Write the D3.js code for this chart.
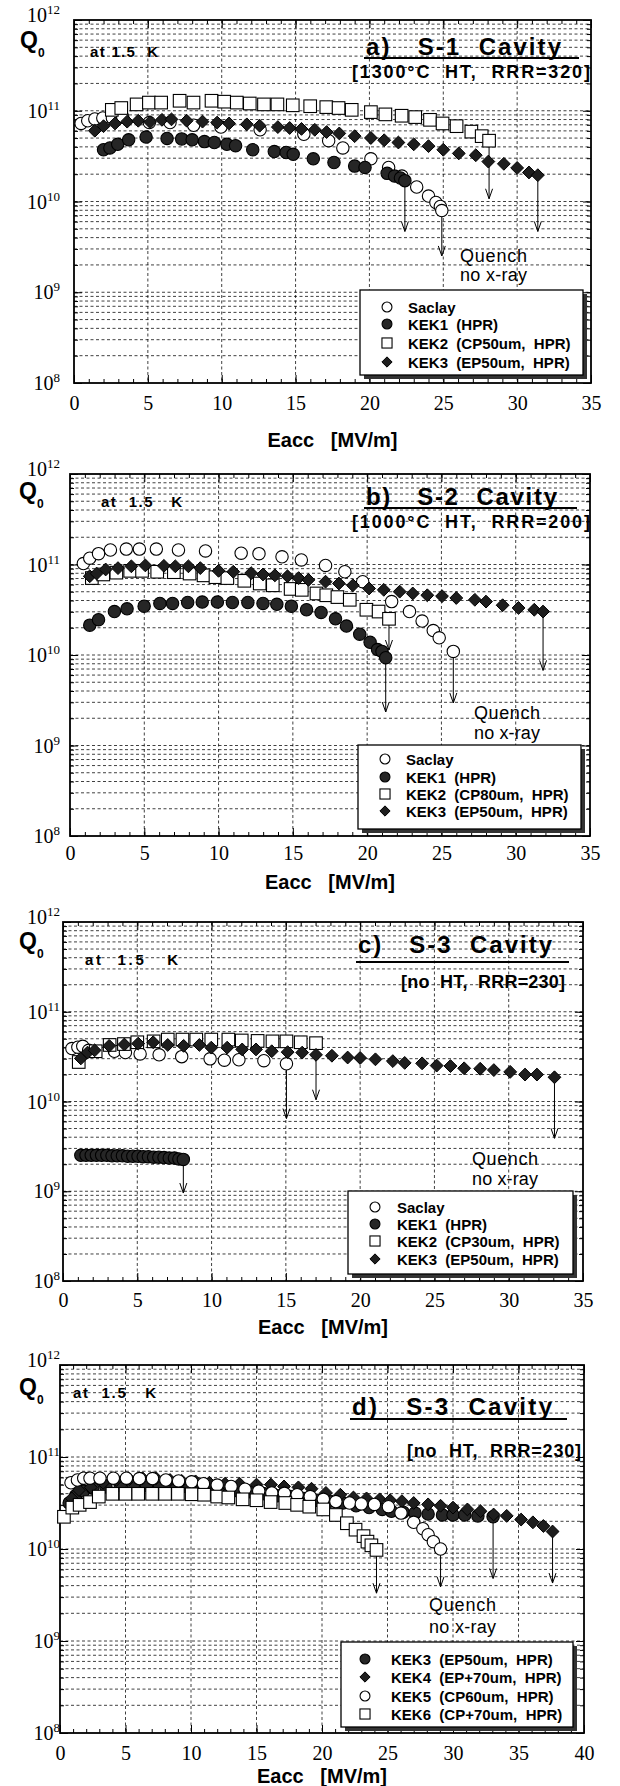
<!DOCTYPE html>
<html>
<head>
<meta charset="utf-8">
<script src="https://cdn.jsdelivr.net/npm/d3@7"></script>
<style>
body { margin: 0; background: #fff; }
svg text { font-family: "Liberation Sans", Arial, sans-serif; fill: #000; }
</style>
</head>
<body>
<svg id="fig" width="620" height="1786"></svg>
<script>
/*--- Data: Eacc [MV/m] and log10(Q0) ---*/

// a) S-1 cavity
const a_saclay_x = [0.48,0.93,1.41,1.95,2.6,3.3,5.1,6.5,8.1,9.95,12.6,15.56,17.24,18.2,20.1,21.3,22.2,23.2,24.0,24.5,24.8,24.9];
const a_saclay_q = [10.86,10.89,10.91,10.92,10.92,10.93,10.87,10.87,10.84,10.82,10.79,10.74,10.67,10.59,10.47,10.375,10.28,10.16,10.06,9.99,9.945,9.90];
const a_kek1_x = [2.0,2.43,2.96,3.7,4.88,6.3,7.29,8.0,8.83,9.5,10.35,10.94,12.1,13.56,14.36,14.84,16.2,17.6,19.0,19.7,21.2,21.7,22.1,22.4];
const a_kek1_q = [10.57,10.59,10.63,10.68,10.71,10.695,10.69,10.68,10.66,10.65,10.63,10.615,10.57,10.55,10.54,10.52,10.47,10.43,10.39,10.375,10.31,10.28,10.26,10.23];
const a_kek2_x = [2.56,3.2,4.24,5.07,5.9,7.15,8.09,9.31,10.17,11.02,11.9,12.86,13.77,14.81,15.99,17.08,17.91,18.8,20.1,21.08,22.18,23.1,24.1,24.95,25.9,26.9,27.6,28.1];
const a_kek2_q = [11.01,11.03,11.07,11.09,11.09,11.11,11.09,11.11,11.10,11.09,11.08,11.07,11.07,11.06,11.05,11.04,11.03,11.01,10.985,10.96,10.945,10.93,10.90,10.86,10.83,10.77,10.72,10.67];
const a_kek3_x = [1.41,2.0,2.78,3.6,4.35,5.15,5.95,6.6,7.63,8.7,9.69,10.5,11.7,12.57,13.8,14.6,15.4,16.3,17.1,17.96,19.0,20.1,21.0,21.96,23.0,24.0,25.0,26.05,27.2,28.05,29.1,30.0,30.8,31.4];
const a_kek3_q = [10.78,10.83,10.86,10.88,10.89,10.875,10.90,10.905,10.89,10.88,10.87,10.86,10.85,10.835,10.82,10.81,10.80,10.79,10.765,10.75,10.72,10.70,10.675,10.65,10.63,10.61,10.57,10.53,10.51,10.44,10.415,10.37,10.32,10.29];
const a_quench = [9.40, 9.67, 10.03, 9.67];   // arrow ends: Saclay, KEK1, KEK2, KEK3
const a_labels = ["Saclay", "KEK1  (HPR)", "KEK2  (CP50um,  HPR)", "KEK3  (EP50um,  HPR)"];

// b) S-2 cavity
const b_saclay_x = [0.9,1.33,1.92,2.72,3.79,4.67,5.81,7.3,9.12,11.52,12.72,14.27,15.57,17.2,18.5,19.7,21.65,22.85,23.7,24.45,24.85,25.8];
const b_saclay_q = [11.01,11.07,11.12,11.16,11.17,11.17,11.17,11.16,11.15,11.125,11.12,11.085,11.05,10.99,10.92,10.81,10.59,10.48,10.375,10.27,10.19,10.04];
const b_kek1_x = [1.33,1.92,2.99,3.84,4.99,6.05,6.9,7.92,8.9,9.92,10.93,11.97,12.99,13.92,14.9,15.92,16.9,17.87,18.61,19.5,20.2,20.7,21.0,21.25];
const b_kek1_q = [10.33,10.39,10.48,10.51,10.54,10.57,10.57,10.58,10.585,10.585,10.58,10.58,10.57,10.56,10.54,10.50,10.47,10.40,10.32,10.23,10.14,10.06,10.04,9.97];
const b_kek2_x = [1.47,2.24,3.12,4.05,4.85,5.87,6.99,8.05,8.99,9.79,10.59,11.73,12.77,13.65,14.85,15.6,16.59,17.25,18.0,18.83,19.95,20.77,21.47];
const b_kek2_q = [10.85,10.89,10.91,10.93,10.93,10.92,10.915,10.90,10.88,10.86,10.85,10.82,10.79,10.77,10.73,10.72,10.68,10.66,10.64,10.61,10.50,10.48,10.40];
const b_kek3_x = [1.33,1.79,2.4,3.23,4.13,5.07,6.32,7.09,7.97,8.77,10.0,10.99,12.19,12.99,13.79,14.64,15.39,16.05,17.2,18.1,19.04,20.13,21.12,22.19,23.07,24.05,25.04,26.0,27.25,28.0,29.12,30.19,31.25,31.84];
const b_kek3_q = [10.87,10.90,10.945,10.96,10.98,10.99,10.985,10.98,10.98,10.96,10.93,10.92,10.905,10.89,10.88,10.87,10.85,10.83,10.81,10.79,10.77,10.735,10.72,10.70,10.68,10.66,10.65,10.63,10.61,10.59,10.55,10.52,10.50,10.48];
const b_quench = [9.47, 9.37, 10.055, 9.83];
const b_labels = ["Saclay", "KEK1  (HPR)", "KEK2  (CP80um,  HPR)", "KEK3  (EP50um,  HPR)"];

// c) S-3 cavity
const c_saclay_x = [0.6,1.0,1.33,1.73,3.46,4.2,5.19,6.47,7.99,9.9,10.86,11.84,13.52,15.04];
const c_saclay_q = [10.59,10.605,10.615,10.57,10.56,10.545,10.53,10.52,10.50,10.475,10.46,10.465,10.455,10.42];
const c_kek1_x = [1.2,1.55,1.9,2.25,2.6,2.95,3.3,3.65,4.0,4.35,4.7,5.05,5.4,5.75,6.1,6.45,6.8,7.15,7.5,7.8,8.1];
const c_kek1_q = [9.40,9.40,9.40,9.40,9.40,9.40,9.395,9.395,9.395,9.39,9.39,9.39,9.385,9.385,9.38,9.38,9.375,9.37,9.37,9.36,9.355];
const c_kek2_x = [1.06,2.2,3.14,4.1,5.0,6.1,7.05,8.04,8.97,9.98,11.13,12.03,13.1,14.1,15.04,16.0,17.03];
const c_kek2_q = [10.44,10.56,10.63,10.64,10.66,10.67,10.69,10.69,10.69,10.69,10.69,10.68,10.675,10.67,10.67,10.66,10.65];
const c_kek3_x = [1.2,1.65,2.13,3.11,4.13,5.06,6.07,7.05,8.12,9.18,9.98,11.05,12.06,12.99,14.05,15.12,16.1,17.03,18.1,19.16,20.0,21.03,22.2,23.0,24.17,25.15,26.08,27.0,28.08,29.0,30.1,31.1,31.9,33.08];
const c_kek3_q = [10.48,10.545,10.57,10.62,10.635,10.645,10.66,10.63,10.62,10.63,10.60,10.60,10.58,10.58,10.56,10.55,10.545,10.52,10.51,10.49,10.485,10.47,10.45,10.43,10.425,10.40,10.395,10.37,10.365,10.35,10.33,10.30,10.30,10.27];
const c_quench = [9.81, 8.98, 10.02, 9.59];
const c_labels = ["Saclay", "KEK1  (HPR)", "KEK2  (CP30um,  HPR)", "KEK3  (EP50um,  HPR)"];

// d) S-3 cavity, further treatments
const d_kek3_x = [0.7,1.2,1.8,2.5,3.5,4.6,5.6,6.6,7.6,8.6,9.6,10.6,11.6,12.6,13.6,14.6,15.6,16.6,17.6,18.6,19.6,20.6,21.6,22.6,23.6,24.6,25.3,26.2,27.1,28.1,29.2,30.0,30.9,31.9,33.06];
const d_kek3_q = [10.50,10.58,10.63,10.66,10.68,10.69,10.69,10.69,10.69,10.69,10.68,10.67,10.66,10.65,10.63,10.62,10.60,10.58,10.57,10.55,10.53,10.52,10.50,10.47,10.45,10.43,10.41,10.40,10.39,10.38,10.37,10.37,10.37,10.36,10.35];
const d_kek4_x = [0.9,1.45,2.35,3.3,4.3,5.3,6.3,7.33,8.4,9.3,10.35,11.4,12.6,13.7,15.0,16.1,17.1,18.2,19.2,20.3,21.4,22.4,23.4,24.4,25.2,26.1,27.0,28.1,29.05,30.0,31.1,32.1,33.1,34.1,35.2,36.1,36.9,37.6];
const d_kek4_q = [10.55,10.64,10.67,10.72,10.75,10.76,10.77,10.77,10.75,10.74,10.735,10.72,10.71,10.71,10.70,10.70,10.68,10.67,10.655,10.61,10.59,10.56,10.55,10.54,10.53,10.52,10.50,10.485,10.47,10.45,10.43,10.41,10.375,10.36,10.32,10.29,10.25,10.19];
const d_kek5_x = [0.84,1.33,1.81,2.29,3.05,4.07,5.07,6.06,7.06,8.08,9.05,10.05,10.95,12.0,13.06,14.12,15.17,16.17,17.13,18.1,19.1,20.1,21.06,22.1,23.0,24.0,25.07,26.03,27.0,27.7,28.1,28.5,29.05];
const d_kek5_q = [10.72,10.75,10.77,10.77,10.77,10.77,10.77,10.765,10.765,10.75,10.74,10.73,10.71,10.695,10.68,10.65,10.63,10.61,10.605,10.59,10.57,10.54,10.515,10.50,10.49,10.485,10.46,10.39,10.29,10.22,10.155,10.08,10.0];
const d_kek6_x = [0.3,0.94,1.5,2.29,2.96,4.0,5.0,5.97,7.03,8.02,9.0,10.05,11.0,12.0,12.85,13.94,15.0,16.08,17.2,18.1,19.03,20.1,21.06,21.9,22.56,23.17,23.47,23.77,24.16];
const d_kek6_q = [10.35,10.45,10.48,10.51,10.57,10.60,10.60,10.60,10.60,10.60,10.60,10.595,10.59,10.57,10.56,10.54,10.53,10.51,10.50,10.48,10.46,10.43,10.37,10.28,10.21,10.14,10.08,10.04,9.99];
const d_quench = [9.68, 9.63, 9.59, 9.52];
const d_labels = ["KEK3  (EP50um,  HPR)", "KEK4  (EP+70um,  HPR)", "KEK5  (CP60um,  HPR)", "KEK6  (CP+70um,  HPR)"];

const yDecades = [1e8, 1e9, 1e10, 1e11, 1e12];
const yExponents = ["8", "9", "10", "11", "12"];


/*--- Panel layouts (page pixels) ---*/
const svg = d3.select("#fig");

const panels = [
    {
        left: 74, right: 591, top: 20, bottom: 383, xMax: 35,
        series: [
            {x: a_saclay_x, q: a_saclay_q, mark: "openCircle"},
            {x: a_kek1_x, q: a_kek1_q, mark: "dotCircle"},
            {x: a_kek2_x, q: a_kek2_q, mark: "openSquare"},
            {x: a_kek3_x, q: a_kek3_q, mark: "dotDiamond"}
        ],
        quench: a_quench, labels: a_labels,
        qLabel: [20, 48], at15: ["at 1.5  K", 90, 57, 68],
        title: ["a)   S-1  Cavity", 366, 55, 195, 364, 579, 58],
        sub: ["[1300°C  HT,  RRR=320]", 352, 78, 238],
        quenchText: [460, 262, 281, 67],
        legend: [360, 290, 583, 375, 387, 408, [307, 324, 343, 362]],
        tickY: 410, eaccY: 447
    },
    {
        left: 70, right: 590, top: 474, bottom: 836, xMax: 35,
        series: [
            {x: b_saclay_x, q: b_saclay_q, mark: "openCircle"},
            {x: b_kek1_x, q: b_kek1_q, mark: "dotCircle"},
            {x: b_kek2_x, q: b_kek2_q, mark: "openSquare"},
            {x: b_kek3_x, q: b_kek3_q, mark: "dotDiamond"}
        ],
        quench: b_quench, labels: b_labels,
        qLabel: [19, 499], at15: ["at  1.5   K", 101, 507, 81],
        title: ["b)   S-2  Cavity", 366, 505, 191, 364, 577, 508],
        sub: ["[1000°C  HT,  RRR=200]", 352, 528, 238],
        quenchText: [474, 719, 739, 66],
        legend: [358, 745, 581, 829, 385, 406, [759, 777, 794, 811]],
        tickY: 860, eaccY: 889
    },
    {
        left: 63, right: 583, top: 922, bottom: 1281, xMax: 35,
        series: [
            {x: c_saclay_x, q: c_saclay_q, mark: "openCircle"},
            {x: c_kek1_x, q: c_kek1_q, mark: "dotCircle"},
            {x: c_kek2_x, q: c_kek2_q, mark: "openSquare"},
            {x: c_kek3_x, q: c_kek3_q, mark: "dotDiamond"}
        ],
        quench: c_quench, labels: c_labels,
        qLabel: [19, 949], at15: ["at  1.5   K", 85, 965, 93],
        title: ["c)   S-3  Cavity", 358, 953, 194, 356, 569, 962],
        sub: ["[no  HT,  RRR=230]", 401, 988, 164],
        quenchText: [472, 1165, 1185, 66],
        legend: [348, 1191, 573, 1274, 375, 397, [1207, 1224, 1241, 1259]],
        tickY: 1307, eaccY: 1334
    },
    {
        left: 60, right: 584, top: 1365, bottom: 1733, xMax: 40,
        series: [
            {x: d_kek3_x, q: d_kek3_q, mark: "dotCircle"},
            {x: d_kek4_x, q: d_kek4_q, mark: "dotDiamond"},
            {x: d_kek5_x, q: d_kek5_q, mark: "openCircle"},
            {x: d_kek6_x, q: d_kek6_q, mark: "openSquare"}
        ],
        quench: d_quench, labels: d_labels,
        qLabel: [19, 1395], at15: ["at  1.5   K", 73, 1398, 83],
        title: ["d)   S-3  Cavity", 352, 1415, 200, 350, 567, 1419],
        sub: ["[no  HT,  RRR=230]", 407, 1457, 174],
        quenchText: [429, 1611, 1633, 67],
        legend: [341, 1642, 573, 1727, 365, 391, [1659, 1677, 1696, 1714]],
        tickY: 1760, eaccY: 1783
    }
];


/*--- Helper Functions ---*/
// one marker of the given kind, centred on 0,0
function drawMark(sel, mark, s) {
    s = s || 1;
    if (mark === "openCircle" || mark === "dotCircle") {
        sel.append("circle").attr("r", 6.2 * s)
            .attr("fill", mark === "openCircle" ? "#fff" : "#262626")
            .attr("stroke", "#000").attr("stroke-width", 1.1);
    } else if (mark === "openSquare") {
        sel.append("rect").attr("x", -6.3 * s).attr("y", -6.3 * s)
            .attr("width", 12.6 * s).attr("height", 12.6 * s)
            .attr("fill", "#fff").attr("stroke", "#000").attr("stroke-width", 1.1);
    } else {
        sel.append("path")
            .attr("d", d3.symbol().type(d3.symbolDiamond2).size(105 * s * s)())
            .attr("fill", "#1e1e1e").attr("stroke", "#000").attr("stroke-width", 1);
    }
}

function drawPanel(p) {
    const x = d3.scaleLinear().domain([0, p.xMax]).range([p.left, p.right]);
    const y = d3.scaleLog().domain([1e8, 1e12]).range([p.bottom, p.top]);
    const g = svg.append("g");

    // dashed grid
    const yGrid = [];
    for (let e = 8; e < 12; e++) {
        for (let m = 1; m < 10; m++) {
            if (e === 8 && m === 1) continue;
            yGrid.push(m * Math.pow(10, e));
        }
    }
    g.append("g").selectAll("line").data(yGrid).join("line")
        .attr("x1", p.left).attr("x2", p.right)
        .attr("y1", d => y(d)).attr("y2", d => y(d))
        .attr("stroke", "#000").attr("stroke-width", 0.75)
        .attr("stroke-dasharray", "3,2.5");
    g.append("g").selectAll("line").data(d3.range(5, p.xMax, 5)).join("line")
        .attr("x1", d => x(d)).attr("x2", d => x(d))
        .attr("y1", p.top).attr("y2", p.bottom)
        .attr("stroke", "#000").attr("stroke-width", 0.75)
        .attr("stroke-dasharray", "3,2.5");

    // inward ticks on all four sides
    const xMinor = d3.range(0, p.xMax + 1);
    const xMajor = d3.range(0, p.xMax + 1, 5);
    const sides = [
        [d3.axisBottom, p.bottom, -4, xMinor], [d3.axisBottom, p.bottom, -8, xMajor],
        [d3.axisTop, p.top, -4, xMinor], [d3.axisTop, p.top, -8, xMajor]
    ];
    sides.forEach(function (s) {
        const ax = g.append("g").attr("transform", `translate(0,${s[1]})`)
            .call(s[0](x).tickValues(s[3]).tickSize(s[2]).tickFormat(""));
        ax.select(".domain").remove();
    });
    const ySides = [
        [d3.axisLeft, p.left, -4, yGrid], [d3.axisLeft, p.left, -8, yDecades],
        [d3.axisRight, p.right, -4, yGrid], [d3.axisRight, p.right, -8, yDecades]
    ];
    ySides.forEach(function (s) {
        const ax = g.append("g").attr("transform", `translate(${s[1]},0)`)
            .call(s[0](y).tickValues(s[3]).tickSize(s[2]).tickFormat(""));
        ax.select(".domain").remove();
    });

    // x tick labels
    const xLab = g.append("g").attr("transform", `translate(0,${p.bottom})`)
        .call(d3.axisBottom(x).tickValues(xMajor).tickSize(0).tickFormat(d3.format("d")));
    xLab.select(".domain").remove();
    xLab.selectAll("text")
        .attr("y", p.tickY - p.bottom).attr("dy", null)
        .style("font-family", '"Liberation Serif", "Times New Roman", serif')
        .style("font-size", "20px");

    // y tick labels 10^n (the top one sits at the frame edge)
    yDecades.forEach(function (d, i) {
        const t = g.append("text")
            .attr("x", 60).attr("y", d === 1e12 ? y(d) + 2 : y(d) + 7)
            .attr("text-anchor", "end")
            .style("font-family", '"Liberation Serif", "Times New Roman", serif')
            .style("font-size", "20px");
        t.append("tspan").text("10");
        t.append("tspan").attr("dy", -8).style("font-size", "13px").text(yExponents[i]);
    });

    // frame
    g.append("rect")
        .attr("x", p.left).attr("y", p.top)
        .attr("width", p.right - p.left).attr("height", p.bottom - p.top)
        .attr("fill", "none").attr("stroke", "#000").attr("stroke-width", 1.8);

    // quench arrows (behind the markers)
    p.series.forEach(function (s, i) {
        const n = s.x.length - 1;
        const ax = x(s.x[n]);
        const y0 = y(Math.pow(10, s.q[n]));
        const y1 = y(Math.pow(10, p.quench[i]));
        g.append("line").attr("x1", ax).attr("x2", ax).attr("y1", y0).attr("y2", y1)
            .attr("stroke", "#000").attr("stroke-width", 1);
        g.append("path").attr("d", `M${ax - 3.5},${y1 - 10}L${ax},${y1}L${ax + 3.5},${y1 - 10}`)
            .attr("fill", "none").attr("stroke", "#000").attr("stroke-width", 1);
    });

    // markers
    p.series.forEach(function (s) {
        const pts = s.x.map((v, j) => [v, Math.pow(10, s.q[j])]);
        g.append("g").selectAll("g").data(pts).join("g")
            .attr("transform", d => `translate(${x(d[0])},${y(d[1])})`)
            .each(function () { drawMark(d3.select(this), s.mark); });
    });

    // Q0 axis label
    const q = g.append("text").attr("x", p.qLabel[0]).attr("y", p.qLabel[1])
        .style("font-weight", "bold").style("font-size", "23px");
    q.append("tspan").text("Q");
    q.append("tspan").attr("dy", 9).style("font-size", "12px").text("0");

    g.append("text").attr("x", p.at15[1]).attr("y", p.at15[2])
        .attr("textLength", p.at15[3]).attr("lengthAdjust", "spacing")
        .style("font-weight", "bold").style("font-size", "15px")
        .style("white-space", "pre").text(p.at15[0]);

    // title + underline
    g.append("text").attr("x", p.title[1]).attr("y", p.title[2])
        .attr("textLength", p.title[3]).attr("lengthAdjust", "spacing")
        .style("font-weight", "bold").style("font-size", "24px")
        .style("white-space", "pre").text(p.title[0]);
    g.append("line").attr("x1", p.title[4]).attr("x2", p.title[5])
        .attr("y1", p.title[6]).attr("y2", p.title[6])
        .attr("stroke", "#000").attr("stroke-width", 1.8);
    g.append("text").attr("x", p.sub[1]).attr("y", p.sub[2])
        .attr("textLength", p.sub[3]).attr("lengthAdjust", "spacing")
        .style("font-weight", "bold").style("font-size", "18px")
        .style("white-space", "pre").text(p.sub[0]);

    // quench note
    g.append("text").attr("x", p.quenchText[0]).attr("y", p.quenchText[1])
        .attr("textLength", p.quenchText[3]).attr("lengthAdjust", "spacing")
        .style("font-size", "18px").text("Quench");
    g.append("text").attr("x", p.quenchText[0]).attr("y", p.quenchText[2])
        .attr("textLength", p.quenchText[3]).attr("lengthAdjust", "spacing")
        .style("font-size", "18px").text("no x-ray");

    // legend with drop shadow
    const L = p.legend;
    g.append("rect").attr("x", L[0] + 4).attr("y", L[1] + 4)
        .attr("width", L[2] - L[0]).attr("height", L[3] - L[1]).attr("fill", "#333");
    g.append("rect").attr("x", L[0]).attr("y", L[1])
        .attr("width", L[2] - L[0]).attr("height", L[3] - L[1])
        .attr("fill", "#fff").attr("stroke", "#000").attr("stroke-width", 1.3);
    p.series.forEach(function (s, i) {
        const m = g.append("g").attr("transform", `translate(${L[4]},${L[6][i]})`);
        drawMark(m, s.mark, 0.8);
        g.append("text").attr("x", L[5]).attr("y", L[6][i] + 5.5)
            .style("font-weight", "bold").style("font-size", "15px")
            .style("white-space", "pre")
            .text(p.labels[i]);
    });

    // x axis title
    g.append("text").attr("x", (p.left + p.right) / 2).attr("y", p.eaccY)
        .attr("text-anchor", "middle")
        .style("font-weight", "bold").style("font-size", "20px")
        .style("white-space", "pre").text("Eacc   [MV/m]");
}


/*--- Main ---*/
panels.forEach(drawPanel);
</script>
</body>
</html>
